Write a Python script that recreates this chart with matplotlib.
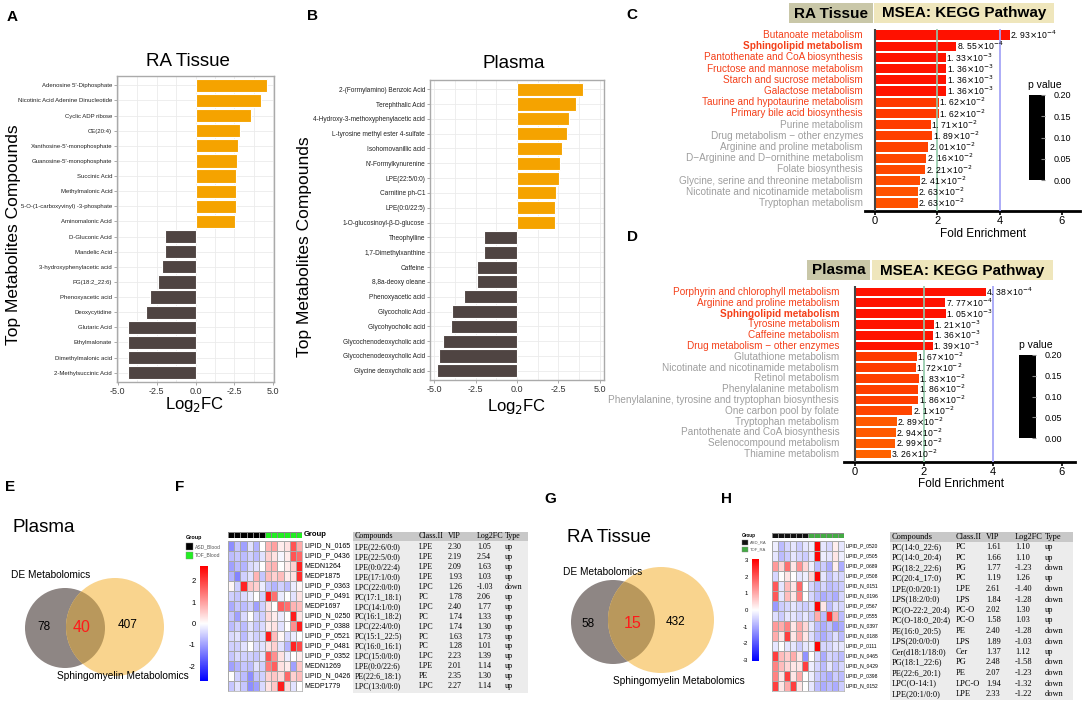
import numpy as np
import matplotlib
matplotlib.use('Agg')
import matplotlib.pyplot as plt
from matplotlib.patches import Circle, Rectangle
from matplotlib.colors import LinearSegmentedColormap, ListedColormap, Normalize

plt.rcParams['font.family'] = ['Liberation Sans', 'DejaVu Sans']

# ---------------- data ----------------
A_names = ["Adenosine 5'-Diphosphate", "Nicotinic Acid Adenine Dinucleotide", "Cyclic ADP ribose",
           "CE(20:4)", "Xanthosine-5'-monophosphate", "Guanosine-5'-monophosphate", "Succinic Acid",
           "Methylmalonic Acid", "5-O-(1-carboxyvinyl) -3-phosphate", "Aminomalonic Acid",
           "D-Gluconic Acid", "Mandelic Acid", "3-hydroxyphenylacetic acid", "PG(18:2_22:6)",
           "Phenoxyacetic acid", "Deoxycytidine", "Glutaric Acid", "Ethylmalonate",
           "Dimethylmalonic acid", "2-Methylsuccinic Acid"]
A_fc = [4.62, 4.19, 3.56, 2.88, 2.75, 2.65, 2.63, 2.63, 2.58, 2.54,
        -1.99, -1.99, -2.16, -2.44, -2.94, -3.20, -4.36, -4.36, -4.36, -4.36]

B_names = ["2-(Formylamino) Benzoic Acid", "Terephthalic Acid", "4-Hydroxy-3-methoxyphenylacetic acid",
           "L-tyrosine methyl ester 4-sulfate", "Isohomovanillic acid", "N'-Formylkynurenine",
           "LPE(22:5/0:0)", "Carnitine ph-C1", "LPE(0:0/22:5)", "1-O-glucosinoyl-β-D-glucose",
           "Theophylline", "1,7-Dimethylxanthine", "Caffeine", "8,8a-deoxy oleane",
           "Phenoxyacetic acid", "Glycocholic Acid", "Glycohyocholic acid",
           "Glycochenodeoxycholic acid", "Glycochenodeoxycholic Acid", "Glycine deoxycholic acid"]
B_fc = [4.00, 3.60, 3.17, 3.03, 2.71, 2.61, 2.55, 2.36, 2.32, 2.32,
        -1.98, -1.98, -2.42, -2.42, -3.21, -3.92, -4.00, -4.48, -4.71, -4.83]

AB_xticks = [-5.0, -2.5, 0.0, 2.5, 5.0]
AB_xticklabels = ["-5.0", "-2.5", "0.0", "-2.5", "5.0"]

C_names = ["Butanoate metabolism", "Sphingolipid metabolism", "Pantothenate and CoA biosynthesis",
           "Fructose and mannose metabolism", "Starch and sucrose metabolism", "Galactose metabolism",
           "Taurine and hypotaurine metabolism", "Primary bile acid biosynthesis", "Purine metabolism",
           "Drug metabolism \u2212 other enzymes", "Arginine and proline metabolism",
           "D\u2212Arginine and D\u2212ornithine metabolism", "Folate biosynthesis",
           "Glycine, serine and threonine metabolism", "Nicotinate and nicotinamide metabolism",
           "Tryptophan metabolism"]
C_fe = [4.32, 2.61, 2.27, 2.29, 2.29, 2.29, 2.04, 2.04, 1.80, 1.84, 1.71, 1.65, 1.62, 1.45, 1.37, 1.37]
C_p = [2.93e-4, 8.55e-4, 1.33e-3, 1.36e-3, 1.36e-3, 1.36e-3, 1.62e-2, 1.62e-2, 1.71e-2, 1.89e-2,
       2.01e-2, 2.16e-2, 2.21e-2, 2.41e-2, 2.63e-2, 2.63e-2]
C_nsig = 8

D_names = ["Porphyrin and chlorophyll metabolism", "Arginine and proline metabolism",
           "Sphingolipid metabolism", "Tyrosine metabolism", "Caffeine metabolism",
           "Drug metabolism \u2212 other enzymes", "Glutathione metabolism",
           "Nicotinate and nicotinamide metabolism", "Retinol metabolism", "Phenylalanine metabolism",
           "Phenylalanine, tyrosine and tryptophan biosynthesis", "One carbon pool by folate",
           "Tryptophan metabolism", "Pantothenate and CoA biosynthesis", "Selenocompound metabolism",
           "Thiamine metabolism"]
D_fe = [3.79, 2.62, 2.64, 2.29, 2.27, 2.26, 1.80, 1.76, 1.85, 1.84, 1.84, 1.66, 1.21, 1.19, 1.17, 1.04]
D_p = [4.38e-4, 7.77e-4, 1.05e-3, 1.21e-3, 1.36e-3, 1.39e-3, 1.67e-2, 1.72e-2, 1.83e-2, 1.86e-2,
       1.86e-2, 2.1e-2, 2.89e-2, 2.94e-2, 2.99e-2, 3.26e-2]
D_nsig = 6

FE_ticks = [0, 2, 4, 6]
pbar_ticks = [0.00, 0.05, 0.10, 0.15, 0.20]

E_counts = [78, 40, 407]
G_counts = [58, 15, 432]

F_rows = ["LIPID_N_0165", "LIPID_P_0436", "MEDN1264", "MEDP1875", "LIPID_P_0363", "LIPID_P_0491",
          "MEDP1697", "LIPID_N_0250", "LIPID_P_0388", "LIPID_P_0521", "LIPID_P_0481", "LIPID_P_0352",
          "MEDN1269", "LIPID_N_0426", "MEDP1779"]
F_heat = [
    [-1.2, -0.6, -1.0, -0.3, -0.8, 0.0, 0.8, 1.0, 0.2, 0.3, 1.8, 0.9],
    [-0.7, -0.6, -0.7, -0.5, -0.7, -0.3, 0.5, 0.3, -0.1, 0.2, 1.8, 1.6],
    [-1.0, -0.7, -0.8, -0.4, -0.3, 0.0, 0.7, 0.8, 0.0, 0.2, 0.5, 2.3],
    [-0.8, -1.3, -0.5, -0.3, 0.8, -0.6, 0.7, 0.5, 0.7, 0.2, 0.3, 2.2],
    [0.1, -0.5, 2.3, 0.6, 0.5, -0.2, -0.6, -0.8, -0.5, -0.7, -0.2, 0.1],
    [-0.5, -0.6, -0.4, -0.2, 0.0, -0.5, 2.4, 1.5, -0.2, 0.0, -0.3, 0.3],
    [-0.9, -0.6, -0.7, -0.5, -1.0, -0.5, 0.3, 0.0, 1.7, 1.5, 0.8, 0.7],
    [-0.6, -1.0, -0.4, 0.0, -0.5, -0.5, 0.4, 0.2, -0.2, 0.0, 2.4, 0.3],
    [-0.7, -0.5, -0.7, -0.3, -0.6, -0.4, 0.2, 0.3, -0.3, 0.0, 1.2, 2.4],
    [-0.4, -0.3, -0.7, -0.3, -0.5, -0.4, 2.4, 0.7, 0.1, -0.4, -0.2, 0.0],
    [-0.5, -0.5, -0.3, 0.0, -0.4, -0.3, 0.3, 0.5, -0.3, -0.8, 2.3, 1.9],
    [-0.6, -0.4, -0.5, -0.5, -0.6, -0.3, 1.8, 1.2, 0.3, -0.2, 0.0, 0.2],
    [-1.0, -0.8, -0.6, -0.7, -0.3, -0.5, 1.4, 1.7, 0.3, 0.2, -1.0, 0.6],
    [0.0, -0.5, -0.7, -1.2, -0.6, -0.5, 0.5, 0.6, 0.4, 1.6, 0.5, 0.7],
    [-0.6, -0.3, -0.6, -1.2, -1.0, -0.4, 0.3, 0.6, 2.4, 0.4, -0.3, 0.0]]
F_groups = ["ASD_Blood", "TOF_Blood"]
F_group_of_col = [0] * 6 + [1] * 6
F_cbar_ticks = [-2, -1, 0, 1, 2]
F_table_head = ["Compounds", "Class.II", "VIP", "Log2FC", "Type"]
F_compounds = ["LPE(22:6/0:0)", "LPE(22:5/0:0)", "LPE(0:0/22:4)", "LPE(17:1/0:0)", "LPC(22:0/0:0)",
               "PC(17:1_18:1)", "LPC(14:1/0:0)", "PC(16:1_18:2)", "LPC(22:4/0:0)", "PC(15:1_22:5)",
               "PC(16:0_16:1)", "LPC(15:0/0:0)", "LPE(0:0/22:6)", "PE(22:6_18:1)", "LPC(13:0/0:0)"]
F_class = ["LPE", "LPE", "LPE", "LPE", "LPC", "PC", "LPC", "PC", "LPC", "PC", "PC", "LPC", "LPE", "PE", "LPC"]
F_vip = ["2.30", "2.19", "2.09", "1.93", "1.26", "1.78", "2.40", "1.74", "1.74", "1.63", "1.28", "2.23",
         "2.01", "2.35", "2.27"]
F_log2fc = ["1.05", "2.54", "1.63", "1.03", "-1.03", "2.06", "1.77", "1.33", "1.30", "1.73", "1.01",
            "1.39", "1.14", "1.30", "1.14"]
F_type = ["up", "up", "up", "up", "down", "up", "up", "up", "up", "up", "up", "up", "up", "up", "up"]

H_rows = ["LIPID_P_0520", "LIPID_P_0505", "LIPID_P_0689", "LIPID_P_0508", "LIPID_N_0151", "LIPID_N_0196",
          "LIPID_P_0567", "LIPID_P_0555", "LIPID_N_0397", "LIPID_N_0188", "LIPID_P_0111", "LIPID_N_0465",
          "LIPID_N_0429", "LIPID_P_0398", "LIPID_N_0152"]
H_heat = [
    [-0.2, -0.8, -0.5, -0.3, -0.6, -0.3, -0.2, 3.0, -0.3, -0.5, 0.2, -0.3],
    [-0.3, -0.8, -0.6, -0.3, -0.5, -0.6, -0.3, 3.0, -0.2, -0.3, 0.3, -0.2],
    [1.2, 0.5, 1.7, 0.3, 1.3, 0.5, -0.2, -0.8, -0.6, -1.0, 0.2, -1.0],
    [-0.5, 0.0, 0.3, 0.0, -0.3, -0.2, 0.5, 3.0, -0.3, -0.7, -0.4, -0.5],
    [2.0, -0.3, 0.8, 0.3, 1.8, 0.0, -0.5, -0.8, -0.5, -0.8, -0.7, -0.6],
    [2.0, -0.3, 0.8, 0.3, 1.5, 0.0, -0.5, -0.8, -1.0, -0.8, -1.0, -0.5],
    [-1.2, -0.6, -0.5, -0.3, -0.5, -0.6, -0.4, 3.0, 0.3, -0.8, -0.4, -0.5],
    [-0.4, -0.6, -0.3, -0.3, -0.5, -0.3, -0.6, 1.0, -0.8, 2.5, 1.0, -0.8],
    [1.2, 1.0, 1.5, 0.3, 1.0, 0.5, -0.3, -0.8, -1.0, -0.7, -1.2, -1.0],
    [1.0, 0.3, 2.3, 0.3, 1.0, 0.3, -0.4, -0.8, -1.0, -0.7, -0.4, -0.8],
    [-0.3, 0.0, -0.3, -0.3, -0.6, -0.3, -0.2, 3.0, -0.5, -0.5, -0.3, -0.3],
    [2.3, 0.8, 0.6, 1.0, 0.3, -1.3, 0.0, -0.5, -1.0, -0.5, -0.6, -0.8],
    [1.5, 0.8, 0.5, 0.3, 0.3, 2.3, -0.2, -0.5, -0.8, -0.3, -0.7, -0.5],
    [1.5, 0.3, 2.3, 0.3, 1.0, 0.0, -0.2, -0.6, -0.8, -1.0, -0.6, -0.8],
    [2.3, 0.3, 1.0, 2.3, 0.3, 0.0, -0.3, -0.8, -1.0, -0.8, -1.0, -0.6]]
H_groups = ["ASD_RA", "TOF_RA"]
H_group_of_col = [0] * 6 + [1] * 6
H_cbar_ticks = [-3, -2, -1, 0, 1, 2, 3]
H_compounds = ["PC(14:0_22:6)", "PC(14:0_20:4)", "PG(18:2_22:6)", "PC(20:4_17:0)", "LPE(0:0/20:1)",
               "LPS(18:2/0:0)", "PC(O-22:2_20:4)", "PC(O-18:0_20:4)", "PE(16:0_20:5)", "LPS(20:0/0:0)",
               "Cer(d18:1/18:0)", "PG(18:1_22:6)", "PE(22:6_20:1)", "LPC(O-14:1)", "LPE(20:1/0:0)"]
H_class = ["PC", "PC", "PG", "PC", "LPE", "LPS", "PC-O", "PC-O", "PE", "LPS", "Cer", "PG", "PE", "LPC-O", "LPE"]
H_vip = ["1.61", "1.66", "1.77", "1.19", "2.61", "1.84", "2.02", "1.58", "2.40", "1.89", "1.37", "2.48",
         "2.07", "1.94", "2.33"]
H_log2fc = ["1.10", "1.10", "-1.23", "1.26", "-1.40", "-1.28", "1.30", "1.03", "-1.28", "-1.03", "1.12",
            "-1.58", "-1.23", "-1.32", "-1.22"]
H_type = ["up", "up", "down", "up", "down", "down", "up", "up", "down", "down", "up", "down", "down",
          "down", "down"]

# ---------------- figure ----------------
W, H = 1084, 704
fig = plt.figure(figsize=(W / 100, H / 100), dpi=100)
cv = fig.add_axes([0, 0, 1, 1])
cv.set_xlim(0, W)
cv.set_ylim(H, 0)
cv.axis('off')


def pax(x0, y0, x1, y1):
    return fig.add_axes([x0 / W, 1 - y1 / H, (x1 - x0) / W, (y1 - y0) / H])


for letter, (lx, ly) in {"A": (12, 17), "B": (313, 16), "C": (632, 15), "D": (632, 237),
                         "E": (10, 487), "F": (180, 487), "G": (550, 499), "H": (727, 499)}.items():
    cv.text(lx, ly, letter, fontsize=11, weight='bold', ha='center', va='center')

ORANGE = '#f5a300'
DARK = '#4f4442'


def bar_panel(box, names, vals, xlim, title, title_xy, ylab_xy, xlab_xy, lab_fs):
    ax = pax(*box)
    y = np.arange(len(vals))
    ax.barh(y, vals, height=0.88, color=[ORANGE if v > 0 else DARK for v in vals],
            edgecolor='white', linewidth=0.8, zorder=2)
    ax.set_ylim(len(vals) - 1 + 0.62, -0.62)
    ax.set_xlim(*xlim)
    ax.set_xticks(AB_xticks)
    ax.set_xticklabels(AB_xticklabels, fontsize=6.5, color='#333333')
    ax.set_xticks([-3.75, -1.25, 1.25, 3.75], minor=True)
    ax.set_yticks(y)
    ax.set_yticklabels(names, fontsize=lab_fs, color='#222222')
    ax.grid(True, which='both', color='#ebebeb', lw=0.6)
    ax.set_axisbelow(True)
    ax.tick_params(which='major', length=2, width=0.5, color='#888888', pad=1.5)
    ax.tick_params(which='minor', length=0)
    for s in ax.spines.values():
        s.set_color('#aaaaaa')
        s.set_linewidth(1)
    cv.text(*title_xy, title, fontsize=13.5, ha='center', va='center')
    cv.text(*ylab_xy, 'Top Metabolites Compounds', fontsize=12.5, rotation=90, ha='center', va='center')
    cv.text(*xlab_xy, 'Log$_2$FC', fontsize=12, ha='center', va='center')


bar_panel((117, 76, 274, 382), A_names, A_fc, (-5.05, 5.05), 'RA Tissue', (188, 62), (14, 235), (195, 405), 4.3)
bar_panel((430, 80, 604, 380), B_names, B_fc, (-5.27, 5.27), 'Plasma', (514, 63), (305, 247), (517, 407), 4.7)

pcmap = LinearSegmentedColormap.from_list('p', ['#ff1000', '#ff6800'])
pnorm = Normalize(0, 0.035)
RED_TXT = '#f4401a'
GRAY_TXT = '#9e9e9e'


def pstr(p):
    m, e = f"{p:.2e}".split('e')
    m = m.rstrip('0').rstrip('.')
    a, _, b = m.partition('.')
    return f"{a}. {b}" + r"$\times$10$^{" + str(int(e)) + "}$"


def msea(box, names, fe, pv, nsig, ylim, xlim, label_x, hdr, cbox, fe_xy):
    ax = pax(*box)
    y = np.arange(len(fe))
    ax.barh(y, fe, height=0.82, color=[pcmap(pnorm(p)) for p in pv], edgecolor='none', zorder=2)
    ax.set_ylim(*ylim)
    ax.set_xlim(*xlim)
    for s in ['top', 'right', 'left']:
        ax.spines[s].set_visible(False)
    ax.spines['bottom'].set_linewidth(2)
    ax.set_yticks([])
    ax.set_xticks(FE_ticks)
    ax.set_xticklabels([str(t) for t in FE_ticks], fontsize=8)
    ax.tick_params(axis='x', length=3, width=1.2, pad=0.5)
    ax.axvline(0, color='#444444', lw=1.5, zorder=3)
    ax.axvline(2, color='#8fc9a8', lw=1.4, alpha=0.85, zorder=3)
    ax.axvline(4, color='#a4a4f6', lw=1.4, alpha=0.9, zorder=3)
    ax.patch.set_alpha(0)
    for i, (n, v, p) in enumerate(zip(names, fe, pv)):
        sig = i < nsig
        ax.text(label_x, i, n, ha='right', va='center', fontsize=7.2,
                color=RED_TXT if sig else GRAY_TXT,
                weight='bold' if n.startswith('Sphingolipid') else 'normal', clip_on=False)
        ax.text(v + 0.01, i, pstr(p), ha='left', va='center', fontsize=6.2, clip_on=False, zorder=4)
    (t1, x0, x1, x2, x3, yb0, yb1) = hdr
    cv.add_patch(Rectangle((x0, yb0), x1 - x0, yb1 - yb0, fc='#c9c7a8', ec='none'))
    cv.text((x0 + x1) / 2, (yb0 + yb1) / 2 + 0.5, t1, fontsize=11, weight='bold', ha='center', va='center')
    cv.add_patch(Rectangle((x2, yb0), x3 - x2, yb1 - yb0, fc='#efe6bc', ec='none'))
    cv.text((x2 + x3) / 2, (yb0 + yb1) / 2 + 0.5, 'MSEA: KEGG Pathway', fontsize=11, weight='bold',
            ha='center', va='center')
    cb = pax(*cbox)
    cb.set_facecolor('black')
    cb.set_ylim(0, 0.2)
    cb.set_xticks([])
    cb.yaxis.tick_right()
    cb.set_yticks(pbar_ticks)
    cb.set_yticklabels([f"{t:.2f}" for t in pbar_ticks], fontsize=6.5)
    cb.tick_params(axis='y', direction='in', length=3, color='#888888', pad=6)
    for s in cb.spines.values():
        s.set_visible(False)
    cv.text(cbox[2], cbox[1] - 10, 'p value', fontsize=7.5, ha='center', va='center')
    cv.text(*fe_xy, 'Fold Enrichment', fontsize=8.5, ha='center', va='center')


msea((865, 29, 1080, 211), C_names, C_fe, C_p, C_nsig, (15.71, -0.54), (-0.32, 6.58), -0.385,
     ('RA Tissue', 789, 873, 874, 1054, 3, 23), (1029, 95, 1045, 180), (983, 234))
msea((844, 286, 1075, 462), D_names, D_fe, D_p, D_nsig, (15.74, -0.56), (-0.32, 6.38), -0.46,
     ('Plasma', 807, 870, 872, 1053, 260, 280), (1019, 355, 1036, 438), (961, 484))


def venn(c1, r1, c2, r2, counts, title, title_xy, de_xy, sm_xy, num_xy):
    g = Circle(c1, r1, fc='#8e8684', ec='none')
    cv.add_patch(g)
    yc = Circle(c2, r2, fc='#f9d48e', ec='none')
    cv.add_patch(yc)
    ov = Circle(c1, r1, fc='#b9985c', ec='none')
    cv.add_patch(ov)
    ov.set_clip_path(yc)
    cv.text(*title_xy, title, fontsize=13.5, ha='left', va='center')
    cv.text(*de_xy, 'DE Metabolomics', fontsize=7.3, ha='left', va='center')
    cv.text(*sm_xy, 'Sphingomyelin Metabolomics', fontsize=7.3, ha='left', va='center')
    for k, (c, (nx, ny)) in enumerate(zip(counts, num_xy)):
        cv.text(nx, ny, str(c), fontsize=11.5 if k == 1 else 8.5, color='#ff1a1a' if k == 1 else 'black',
                ha='center', va='center')


venn((65, 628), 40, (115, 627), 49, E_counts, 'Plasma', (13, 528), (11, 575), (57, 676),
     [(44, 627), (82, 627), (128, 625)])
venn((613, 622), 42, (661, 620), 53, G_counts, 'RA Tissue', (567, 537), (563, 572), (613, 681),
     [(588, 624), (633, 624), (676, 622)])


def heat_panel(hbox, gbox, data, rows, group_cols, gcolors, groups, cmap_lim, cticks, cbox,
               leg, row_x, row_fs, tick_fs, group_label_xy):
    cmap = LinearSegmentedColormap.from_list('bwr2', ['#0000ff', '#ffffff', '#ff0000'])
    ax = pax(*hbox)
    arr = np.array(data)
    ax.pcolormesh(arr, cmap=cmap, vmin=-cmap_lim, vmax=cmap_lim, edgecolors='#a8a8a8', linewidth=0.4)
    ax.set_ylim(arr.shape[0], 0)
    ax.set_xticks([])
    ax.set_yticks([])
    for s in ax.spines.values():
        s.set_color('#a8a8a8')
        s.set_linewidth(0.5)
    gx = pax(*gbox)
    gx.pcolormesh(np.array([group_cols]), cmap=ListedColormap(gcolors), vmin=0, vmax=1,
                  edgecolors='#888888', linewidth=0.4)
    gx.set_xticks([])
    gx.set_yticks([])
    for s in gx.spines.values():
        s.set_visible(False)
    if group_label_xy is not None:
        cv.text(*group_label_xy, 'Group', fontsize=5.5, weight='bold', ha='left', va='center')
    dy = (hbox[3] - hbox[1]) / len(rows)
    for i, r in enumerate(rows):
        cv.text(row_x, hbox[1] + dy * (i + 0.5), r, fontsize=row_fs, ha='left', va='center')
    cb = pax(*cbox)
    grad = np.linspace(-cmap_lim, cmap_lim, 200).reshape(-1, 1)
    cb.imshow(grad, aspect='auto', cmap=cmap, vmin=-cmap_lim, vmax=cmap_lim, origin='lower',
              extent=(0, 1, -cmap_lim, cmap_lim))
    cb.set_xticks([])
    cb.set_yticks(cticks)
    cb.set_yticklabels([str(t) for t in cticks], fontsize=tick_fs)
    cb.tick_params(axis='y', length=0, pad=3)
    for s in cb.spines.values():
        s.set_visible(False)
    lx, ly, sw, sh, lfs = leg
    cv.text(lx, ly, 'Group', fontsize=lfs + 0.3, weight='bold', ha='left', va='center')
    for k, (gname, col) in enumerate(zip(groups, gcolors)):
        yy = ly + 5 + k * (sh + 1.5)
        cv.add_patch(Rectangle((lx, yy), sw, sh, fc=col, ec='#888888', lw=0.3))
        cv.text(lx + sw + 2, yy + sh / 2, gname, fontsize=lfs, color='#555555', ha='left', va='center')


def table(x0, x1, hy0, hy1, ry0, dy, yb, colx, cols, fs):
    cv.add_patch(Rectangle((x0, hy0), x1 - x0, hy1 - hy0, fc='#c8c8c8', ec='none'))
    cv.add_patch(Rectangle((x0, hy1), x1 - x0, yb - hy1, fc='#ececec', ec='none'))
    for cx, head in zip(colx, F_table_head):
        cv.text(cx, (hy0 + hy1) / 2, head, fontsize=fs, family='Liberation Serif', ha='left', va='center')
    for i in range(len(cols[0])):
        for cx, col in zip(colx, cols):
            cv.text(cx, ry0 + i * dy, col[i], fontsize=fs, family='Liberation Serif', ha='left', va='center')


heat_panel((228, 541, 302, 691), (228, 532, 302, 538), F_heat, F_rows, F_group_of_col,
           ['#000000', '#22ee22'], F_groups, 2.7, F_cbar_ticks, (200, 566, 208, 681),
           (186, 538, 7, 7, 3.6), 304, 5.0, 5.5, (304, 535))
table(353, 528, 532, 541, 547, 9.95, 693, [355, 419, 448, 477, 505],
      [F_compounds, F_class, F_vip, F_log2fc, F_type], 5.8)

heat_panel((772, 541, 844, 691), (772, 533, 844, 538), H_heat, H_rows, H_group_of_col,
           ['#111111', '#44aa44'], H_groups, 3.06, H_cbar_ticks, (752, 559, 758, 661),
           (742, 535, 6, 5, 3.0), 846, 3.6, 4.3, None)
table(890, 1073, 532, 542, 547, 10.5, 700, [892, 956, 986, 1015, 1045],
      [H_compounds, H_class, H_vip, H_log2fc, H_type], 6.0)

fig.savefig('out.png', dpi=100)
